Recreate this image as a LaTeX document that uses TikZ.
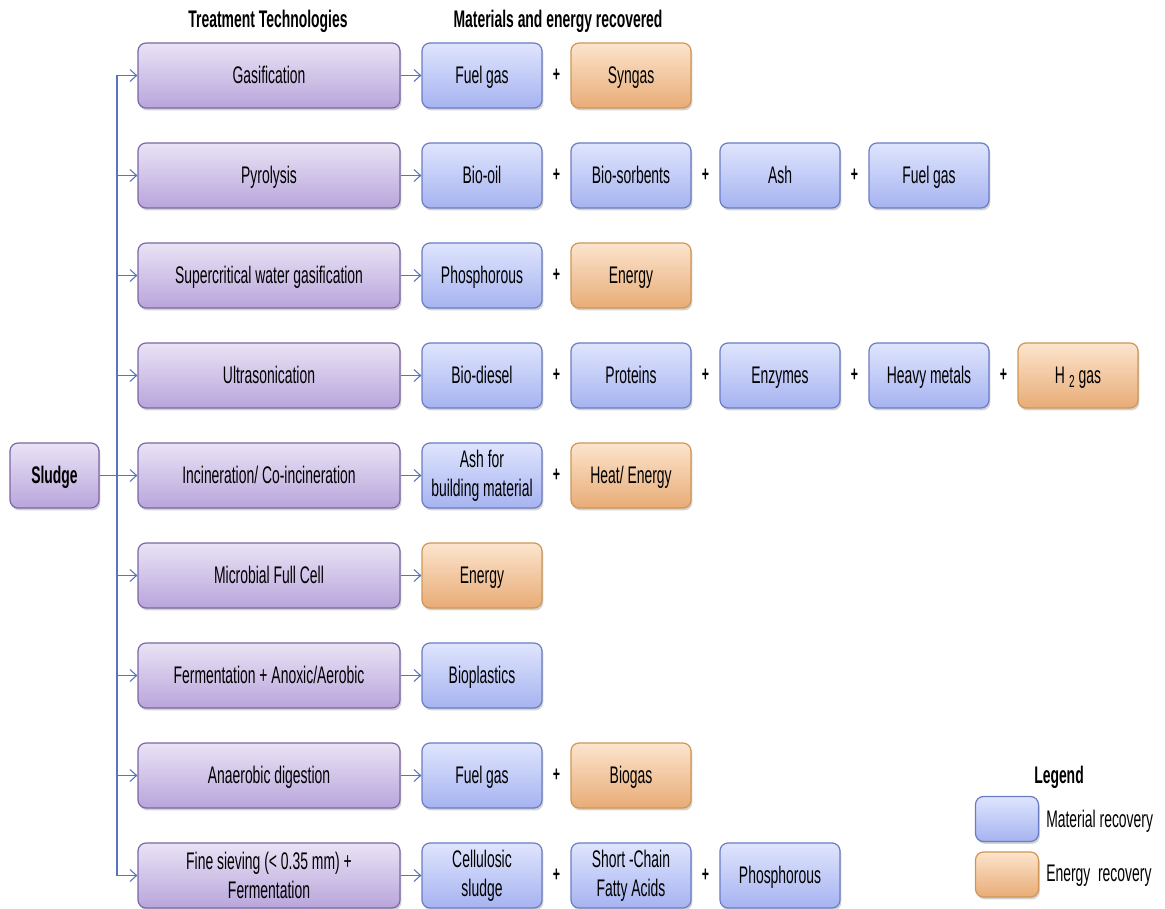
\documentclass[tikz,border=0pt]{standalone}
\usepackage{fontspec}
\setmainfont[FakeStretch=0.58]{Liberation Sans}
\usetikzlibrary{arrows.meta,shadows}
\definecolor{purTop}{HTML}{EAE3F5}
\definecolor{purBot}{HTML}{B8A5DB}
\definecolor{purLine}{HTML}{7D66A6}
\definecolor{bluTop}{HTML}{DFE5FD}
\definecolor{bluBot}{HTML}{A6B3F0}
\definecolor{bluLine}{HTML}{6A7CC4}
\definecolor{orTop}{HTML}{FCE4CD}
\definecolor{orBot}{HTML}{E8AC76}
\definecolor{orLine}{HTML}{CF9656}
\definecolor{conn}{HTML}{5575BD}
\tikzset{
  x=0.75pt, y=-0.75pt,
  every node/.style={font=\fontsize{18}{22}\selectfont, inner sep=0pt, align=center},
  box/.style={rounded corners=6pt, line width=0.9pt, minimum height=65*0.75pt,
     text height=12pt, text depth=-1.5pt,
     drop shadow={opacity=0.35, shadow xshift=1pt, shadow yshift=-1.8pt}},
  multi/.style={text height={}, text depth={}},
  techbox/.style={box, draw=purLine, top color=purTop, bottom color=purBot, minimum width=262*0.75pt},
  srcbox/.style={box, draw=purLine, top color=purTop, bottom color=purBot, minimum width=89*0.75pt, font=\fontsize{18}{22}\selectfont\bfseries},
  matbox/.style={box, draw=bluLine, top color=bluTop, bottom color=bluBot, minimum width=120*0.75pt},
  enbox/.style={box, draw=orLine, top color=orTop, bottom color=orBot, minimum width=120*0.75pt},
  legmat/.style={matbox, minimum width=63*0.75pt, minimum height=45*0.75pt},
  legen/.style={enbox, minimum width=63*0.75pt, minimum height=45*0.75pt},
  plus/.style={font=\fontsize{16}{18}\selectfont\bfseries},
  title/.style={font=\fontsize{18}{22}\selectfont\bfseries},
  link/.style={draw=conn, line width=0.8pt},
  arr/.style={link, -{Straight Barb[length=5pt,width=9pt,line width=0.8pt]}},
}
\begin{document}
\begin{tikzpicture}
\useasboundingbox (0,0) rectangle (1165,909);

\node[title] (t1) at (268,21) {Treatment Technologies};
\node[title] (t2) at (558,21) {Materials and energy recovered};

\node[srcbox] (sludge) at (54.5,475.5) {Sludge};

\node[techbox] (tech1) at (269,75.5) {Gasification};
\node[techbox] (tech2) at (269,175.5) {Pyrolysis};
\node[techbox] (tech3) at (269,275.5) {Supercritical water gasification};
\node[techbox] (tech4) at (269,375.5) {Ultrasonication};
\node[techbox] (tech5) at (269,475.5) {Incineration/ Co-incineration};
\node[techbox] (tech6) at (269,575.5) {Microbial Full Cell};
\node[techbox] (tech7) at (269,675.5) {Fermentation + Anoxic/Aerobic};
\node[techbox] (tech8) at (269,775.5) {Anaerobic digestion};
\node[techbox,multi] (tech9) at (269,875.5) {Fine sieving (< 0.35 mm) +\\Fermentation};

% row 1
\node[matbox] (p11) at (482,75.5) {Fuel gas};
\node[plus] (s11) at (556.5,75.5) {+};
\node[enbox] (p12) at (631,75.5) {Syngas};
% row 2
\node[matbox] (p21) at (482,175.5) {Bio-oil};
\node[plus] (s21) at (556.5,175.5) {+};
\node[matbox] (p22) at (631,175.5) {Bio-sorbents};
\node[plus] (s22) at (705.5,175.5) {+};
\node[matbox] (p23) at (780,175.5) {Ash};
\node[plus] (s23) at (854.5,175.5) {+};
\node[matbox] (p24) at (929,175.5) {Fuel gas};
% row 3
\node[matbox] (p31) at (482,275.5) {Phosphorous};
\node[plus] (s31) at (556.5,275.5) {+};
\node[enbox] (p32) at (631,275.5) {Energy};
% row 4
\node[matbox] (p41) at (482,375.5) {Bio-diesel};
\node[plus] (s41) at (556.5,375.5) {+};
\node[matbox] (p42) at (631,375.5) {Proteins};
\node[plus] (s42) at (705.5,375.5) {+};
\node[matbox] (p43) at (780,375.5) {Enzymes};
\node[plus] (s43) at (854.5,375.5) {+};
\node[matbox] (p44) at (929,375.5) {Heavy metals};
\node[plus] (s44) at (1003.5,375.5) {+};
\node[enbox] (p45) at (1078,375.5) {H\,\raisebox{-0.35ex}{\fontsize{13}{14}\selectfont 2}\,gas};
% row 5
\node[matbox,multi] (p51) at (482,475.5) {Ash for\\building material};
\node[plus] (s51) at (556.5,475.5) {+};
\node[enbox] (p52) at (631,475.5) {Heat/ Energy};
% row 6
\node[enbox] (p61) at (482,575.5) {Energy};
% row 7
\node[matbox] (p71) at (482,675.5) {Bioplastics};
% row 8
\node[matbox] (p81) at (482,775.5) {Fuel gas};
\node[plus] (s81) at (556.5,775.5) {+};
\node[enbox] (p82) at (631,775.5) {Biogas};
% row 9
\node[matbox,multi] (p91) at (482,875.5) {Cellulosic\\sludge};
\node[plus] (s91) at (556.5,875.5) {+};
\node[matbox,multi] (p92) at (631,875.5) {Short -Chain\\Fatty Acids};
\node[plus] (s92) at (705.5,875.5) {+};
\node[matbox] (p93) at (780,875.5) {Phosphorous};

% connectors
\foreach \k/\y in {1/75.5,2/175.5,3/275.5,4/375.5,5/475.5,6/575.5,7/675.5,8/775.5,9/875.5}{
  \coordinate (j\k) at (117,\y);
}
\draw[link] (j1) -- (j9);
\draw[arr] (sludge.east) -- (tech5.west);
\foreach \k in {1,2,3,4,6,7,8,9}{
  \draw[arr] (j\k) -- (tech\k.west);
}
\foreach \k in {1,...,9}{
  \draw[arr] (tech\k.east) -- (p\k1.west);
}

% legend
\node[title] (leg) at (1059,777) {Legend};
\node[legmat] (lm) at (1007,819) {};
\node[legen] (le) at (1007,874.5) {};
\node[anchor=west] (lmt) at (1046,821) {Material recovery};
\node[anchor=west] (let) at (1046,876) {Energy\ \ recovery};
\end{tikzpicture}
\end{document}
